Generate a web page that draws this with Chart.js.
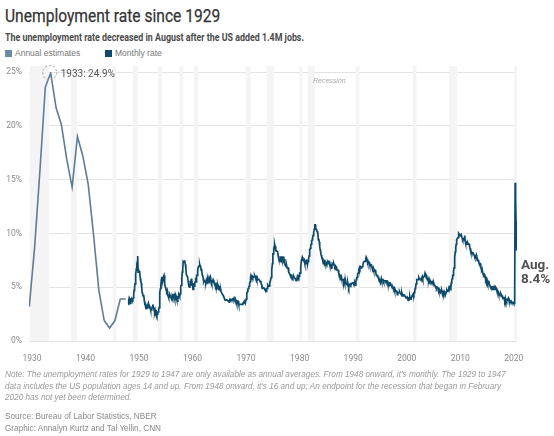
<!DOCTYPE html>
<html>
<head>
<meta charset="utf-8">
<script src="https://cdn.jsdelivr.net/npm/chart.js@4.4.1/dist/chart.umd.min.js"></script>
<style>
  html, body { margin:0; padding:0; background:#fff; }
  body { width:554px; height:436px; position:relative; overflow:hidden; }
  #c { position:absolute; left:0; top:0; }
  .cond { font-family:'Liberation Sans Narrow','Roboto','DejaVu Sans Condensed',sans-serif; }
  #title { position:absolute; left:5px; top:4px; font-size:19px; color:#333; white-space:nowrap; transform:scaleX(0.82); transform-origin:0 0; -webkit-text-stroke:0.25px #333; }
  #sub { position:absolute; left:5px; top:30px; font-size:11.5px; color:#4a4a4a; font-weight:bold; white-space:nowrap; transform:scaleX(0.77); transform-origin:0 0; }
  .leg { position:absolute; top:48px; font-family:'Liberation Sans',Arial,sans-serif; font-size:8.5px; color:#777; white-space:nowrap; }
  .leg span.sw { display:inline-block; width:7px; height:7px; margin-right:3px; vertical-align:-1px; }
  #note { position:absolute; left:5px; top:369px; font-family:'Liberation Sans',Arial,sans-serif; font-style:italic; font-size:8.2px; line-height:11.5px; color:#999; white-space:nowrap; }
  #src { position:absolute; left:5px; top:411px; font-family:'Liberation Sans',Arial,sans-serif; font-size:8.2px; line-height:11.5px; color:#888; white-space:nowrap; }
</style>
</head>
<body>
<div id="title" class="cond">Unemployment rate since 1929</div>
<div id="sub" class="cond">The unemployment rate decreased in August after the US added 1.4M jobs.</div>
<div class="leg" style="left:5px"><span class="sw" style="background:#6b8ba4"></span>Annual estimates</div>
<div class="leg" style="left:105px"><span class="sw" style="background:#0e4a6a"></span>Monthly rate</div>
<canvas id="c" width="554" height="436"></canvas>
<div id="note">Note: The unemployment rates for 1929 to 1947 are only available as annual averages. From 1948 onward, it's monthly. The 1929 to 1947<br>data includes the US population ages 14 and up. From 1948 onward, it's 16 and up; An endpoint for the recession that began in February<br>2020 has not yet been determined.</div>
<div id="src">Source: Bureau of Labor Statistics, NBER<br>Graphic: Annalyn Kurtz and Tal Yellin, CNN</div>
<script>
// ---- DATA ----
const annualYears = [1929,1930,1931,1932,1933,1934,1935,1936,1937,1938,1939,1940,1941,1942,1943,1944,1945,1946,1947];
const annualRate  = [3.2,8.7,15.9,23.6,24.9,21.7,20.1,16.9,14.3,19.0,17.2,14.6,9.9,4.7,1.9,1.2,1.9,3.9,3.9];

const monthlyStartYear = 1948;
const monthlyRate = [
/*1948*/3.4,3.8,4.0,3.9,3.5,3.6,3.6,3.9,3.8,3.7,3.8,4.0,
/*1949*/4.3,4.7,5.0,5.3,6.1,6.2,6.7,6.8,6.6,7.9,6.4,6.6,
/*1950*/6.5,6.4,6.3,5.8,5.5,5.4,5.0,4.5,4.4,4.2,4.2,4.3,
/*1951*/3.7,3.4,3.4,3.1,3.0,3.2,3.1,3.1,3.3,3.5,3.5,3.1,
/*1952*/3.2,3.1,2.9,2.9,3.0,3.0,3.2,3.4,3.1,3.0,2.8,2.7,
/*1953*/2.9,2.6,2.6,2.7,2.5,2.5,2.6,2.7,2.9,3.1,3.5,4.5,
/*1954*/4.9,5.2,5.7,5.9,5.9,5.6,5.8,6.0,6.1,5.7,5.3,5.0,
/*1955*/4.9,4.7,4.6,4.7,4.3,4.2,4.0,4.2,4.1,4.3,4.2,4.2,
/*1956*/4.0,3.9,4.2,4.0,4.3,4.3,4.4,4.1,3.9,3.9,4.3,4.2,
/*1957*/4.2,3.9,3.7,3.9,4.1,4.3,4.2,4.1,4.4,4.5,5.1,5.2,
/*1958*/5.8,6.4,6.7,7.4,7.4,7.3,7.5,7.4,7.1,6.7,6.2,6.2,
/*1959*/6.0,5.9,5.6,5.2,5.1,5.0,5.1,5.2,5.5,5.7,5.8,5.3,
/*1960*/5.2,4.8,5.4,5.2,5.1,5.4,5.5,5.6,5.5,6.1,6.1,6.6,
/*1961*/6.6,6.9,6.9,7.0,7.1,6.9,7.0,6.6,6.7,6.5,6.1,6.0,
/*1962*/5.8,5.5,5.6,5.6,5.5,5.5,5.4,5.7,5.6,5.4,5.7,5.5,
/*1963*/5.7,5.9,5.7,5.7,5.9,5.6,5.6,5.4,5.5,5.5,5.7,5.5,
/*1964*/5.6,5.4,5.4,5.3,5.1,5.2,4.9,5.0,5.1,5.1,4.8,5.0,
/*1965*/4.9,5.1,4.7,4.8,4.6,4.6,4.4,4.4,4.3,4.2,4.1,4.0,
/*1966*/4.0,3.8,3.8,3.8,3.9,3.8,3.8,3.8,3.7,3.7,3.6,3.8,
/*1967*/3.9,3.8,3.8,3.8,3.8,3.9,3.8,3.8,3.8,4.0,3.9,3.8,
/*1968*/3.7,3.8,3.7,3.5,3.5,3.7,3.7,3.5,3.4,3.4,3.4,3.4,
/*1969*/3.4,3.4,3.4,3.4,3.4,3.5,3.5,3.5,3.7,3.7,3.5,3.5,
/*1970*/3.9,4.2,4.4,4.6,4.8,4.9,5.0,5.1,5.4,5.5,5.9,6.1,
/*1971*/5.9,5.9,6.0,5.9,5.9,5.9,6.0,6.1,6.0,5.8,6.0,6.0,
/*1972*/5.8,5.7,5.8,5.7,5.7,5.7,5.6,5.6,5.5,5.6,5.3,5.2,
/*1973*/4.9,5.0,4.9,5.0,4.9,4.9,4.8,4.8,4.8,4.6,4.8,4.9,
/*1974*/5.1,5.2,5.1,5.1,5.1,5.4,5.5,5.5,5.9,6.0,6.6,7.2,
/*1975*/8.1,8.1,8.6,8.8,9.0,8.8,8.6,8.4,8.4,8.4,8.3,8.2,
/*1976*/7.9,7.7,7.6,7.7,7.4,7.6,7.8,7.8,7.6,7.7,7.8,7.8,
/*1977*/7.5,7.6,7.4,7.2,7.0,7.2,6.9,7.0,6.8,6.8,6.8,6.4,
/*1978*/6.4,6.3,6.3,6.1,6.0,5.9,6.2,5.9,6.0,5.8,5.9,6.0,
/*1979*/5.9,5.9,5.8,5.8,5.6,5.7,5.7,6.0,5.9,6.0,5.9,6.0,
/*1980*/6.3,6.3,6.3,6.9,7.5,7.6,7.8,7.7,7.5,7.5,7.5,7.2,
/*1981*/7.5,7.4,7.4,7.2,7.5,7.5,7.2,7.4,7.6,7.9,8.3,8.5,
/*1982*/8.6,8.9,9.0,9.3,9.4,9.6,9.8,9.8,10.1,10.4,10.8,10.8,
/*1983*/10.4,10.4,10.3,10.2,10.1,10.1,9.4,9.5,9.2,8.8,8.5,8.3,
/*1984*/8.0,7.8,7.8,7.7,7.4,7.2,7.5,7.5,7.3,7.4,7.2,7.3,
/*1985*/7.3,7.2,7.2,7.3,7.2,7.4,7.4,7.1,7.1,7.1,7.0,7.0,
/*1986*/6.7,7.2,7.2,7.1,7.2,7.2,7.0,6.9,7.0,7.0,6.9,6.6,
/*1987*/6.6,6.6,6.6,6.3,6.3,6.2,6.1,6.0,5.9,6.0,5.8,5.7,
/*1988*/5.7,5.7,5.7,5.4,5.6,5.4,5.4,5.6,5.4,5.4,5.3,5.3,
/*1989*/5.4,5.2,5.0,5.2,5.2,5.3,5.2,5.2,5.3,5.3,5.4,5.4,
/*1990*/5.4,5.3,5.2,5.4,5.4,5.2,5.5,5.7,5.9,5.9,6.2,6.3,
/*1991*/6.4,6.6,6.8,6.7,6.9,6.9,6.8,6.9,6.9,7.0,7.0,7.3,
/*1992*/7.3,7.4,7.4,7.4,7.6,7.8,7.7,7.6,7.6,7.3,7.4,7.4,
/*1993*/7.3,7.1,7.0,7.1,7.1,7.0,6.9,6.8,6.7,6.8,6.6,6.5,
/*1994*/6.6,6.6,6.5,6.4,6.1,6.1,6.1,6.0,5.9,5.8,5.6,5.5,
/*1995*/5.6,5.4,5.4,5.8,5.6,5.6,5.7,5.7,5.6,5.5,5.6,5.6,
/*1996*/5.6,5.5,5.5,5.6,5.6,5.3,5.5,5.1,5.2,5.2,5.4,5.4,
/*1997*/5.3,5.2,5.2,5.1,4.9,5.0,4.9,4.8,4.9,4.7,4.6,4.7,
/*1998*/4.6,4.6,4.7,4.3,4.4,4.5,4.5,4.5,4.6,4.5,4.4,4.4,
/*1999*/4.3,4.4,4.2,4.3,4.2,4.3,4.3,4.2,4.2,4.1,4.1,4.0,
/*2000*/4.0,4.1,4.0,3.8,4.0,4.0,4.0,4.1,3.9,3.9,3.9,3.9,
/*2001*/4.2,4.2,4.3,4.4,4.3,4.5,4.6,4.9,5.0,5.3,5.5,5.7,
/*2002*/5.7,5.7,5.7,5.9,5.8,5.8,5.8,5.7,5.7,5.7,5.9,6.0,
/*2003*/5.8,5.9,5.9,6.0,6.1,6.3,6.2,6.1,6.1,6.0,5.8,5.7,
/*2004*/5.7,5.6,5.8,5.6,5.6,5.6,5.5,5.4,5.4,5.5,5.4,5.4,
/*2005*/5.3,5.4,5.2,5.2,5.1,5.0,5.0,4.9,5.0,5.0,5.0,4.9,
/*2006*/4.7,4.8,4.7,4.7,4.6,4.6,4.7,4.7,4.5,4.4,4.5,4.4,
/*2007*/4.6,4.5,4.4,4.5,4.4,4.6,4.7,4.6,4.7,4.7,4.7,5.0,
/*2008*/5.0,4.9,5.1,5.0,5.4,5.6,5.8,6.1,6.1,6.5,6.8,7.3,
/*2009*/7.8,8.3,8.7,9.0,9.4,9.5,9.5,9.6,9.8,10.0,9.9,9.9,
/*2010*/9.8,9.8,9.9,9.9,9.6,9.4,9.4,9.5,9.5,9.4,9.8,9.3,
/*2011*/9.1,9.0,9.0,9.1,9.0,9.1,9.0,9.0,9.0,8.8,8.6,8.5,
/*2012*/8.3,8.3,8.2,8.2,8.2,8.2,8.2,8.0,7.8,7.8,7.7,7.9,
/*2013*/8.0,7.7,7.5,7.6,7.5,7.5,7.3,7.2,7.2,7.2,6.9,6.7,
/*2014*/6.6,6.7,6.7,6.2,6.3,6.1,6.2,6.1,5.9,5.7,5.8,5.6,
/*2015*/5.7,5.5,5.4,5.4,5.6,5.3,5.2,5.1,5.0,5.0,5.1,5.0,
/*2016*/4.8,4.9,5.0,5.1,4.8,4.9,4.8,4.9,5.0,4.9,4.7,4.7,
/*2017*/4.7,4.6,4.4,4.4,4.4,4.3,4.3,4.4,4.3,4.2,4.2,4.1,
/*2018*/4.0,4.1,4.0,4.0,3.8,4.0,3.8,3.8,3.7,3.8,3.8,3.9,
/*2019*/4.0,3.8,3.8,3.7,3.6,3.6,3.7,3.6,3.5,3.6,3.6,3.6,
/*2020*/3.5,3.5,4.4,14.7,13.3,11.1,10.2,8.4
];

// NBER recessions (decimal years: start, end)
const recessionStart = [1929.58,1937.33,1945.08,1948.83,1953.50,1957.58,1960.25,1969.92,1973.83,1980.00,1981.50,1990.50,2001.17,2007.92,2020.08];
const recessionEnd   = [1933.17,1938.42,1945.75,1949.75,1954.33,1958.25,1961.08,1970.83,1975.17,1980.50,1982.83,1991.17,2001.83,2009.42,2020.60];

const xTickYears = [1930,1940,1950,1960,1970,1980,1990,2000,2010,2020];
const yTicks = [0,5,10,15,20,25];
const peakLabel = '1933: 24.9%';
const endLabel = ['Aug.', '8.4%'];

// ---- BUILD ----
const COND = "'Liberation Sans Narrow','Roboto','DejaVu Sans Condensed',sans-serif";
const annualPts = annualYears.map((y,i)=>({x:y+0.5, y:annualRate[i]}));
const monthlyPts = monthlyRate.map((v,i)=>({x:monthlyStartYear + i/12, y:v}));

const bandsPlugin = {
  id:'bands',
  beforeDatasetsDraw(chart){
    const {ctx, chartArea, scales:{x}} = chart;
    ctx.save();
    ctx.fillStyle = '#f4f4f4';
    recessionStart.forEach((s,i)=>{
      const a = Math.max(x.getPixelForValue(s), chartArea.left);
      const b = Math.min(x.getPixelForValue(recessionEnd[i]), chartArea.right);
      ctx.fillRect(a, chartArea.top-6, Math.max(b-a,1.5), chartArea.bottom-chartArea.top+6);
    });
    ctx.fillStyle = '#aaa';
    ctx.font = 'italic 7px "Liberation Sans", Arial, sans-serif';
    ctx.textBaseline = 'middle';
    ctx.textAlign = 'left';
    ctx.fillText('Recession', x.getPixelForValue(1982.5), chartArea.top+9);
    ctx.restore();
  },
  afterDatasetsDraw(chart){
    const {ctx, scales:{x,y}} = chart;
    ctx.save();
    // peak annotation
    const px = x.getPixelForValue(annualYears[4]+0.5), py = y.getPixelForValue(annualRate[4]);
    ctx.setLineDash([2,2]);
    ctx.strokeStyle = '#999';
    ctx.lineWidth = 1;
    ctx.beginPath(); ctx.arc(px-1, py-0.5, 7, 0, Math.PI*2); ctx.stroke();
    ctx.setLineDash([]);
    ctx.fillStyle = '#555';
    ctx.font = '10px ' + COND;
    ctx.textBaseline = 'middle';
    ctx.fillText(peakLabel, px+10, py+1);
    // end label
    const last = monthlyPts[monthlyPts.length-1];
    const ex = x.getPixelForValue(last.x), ey = y.getPixelForValue(last.y);
    ctx.fillStyle = '#505050';
    ctx.font = 'bold 13.5px ' + COND;
    ctx.fillText(endLabel[0], ex+4, ey+15);
    ctx.fillText(endLabel[1], ex+4, ey+29);
    ctx.restore();
  }
};

new Chart(document.getElementById('c'), {
  type:'line',
  data:{
    datasets:[
      {label:'Annual estimates', data:annualPts, borderColor:'#5d7d96', backgroundColor:'#6b8ba4', borderWidth:1.6, pointRadius:0, tension:0},
      {label:'Monthly rate', data:monthlyPts, borderColor:'#0e4a6a', backgroundColor:'#0e4a6a', borderWidth:1.7, pointRadius:0, tension:0}
    ]
  },
  options:{
    responsive:false, animation:false,
    layout:{padding:{top:72, right:37, bottom:75, left:0}},
    plugins:{legend:{display:false}, tooltip:{enabled:false}},
    scales:{
      x:{type:'linear', min:1929.45, max:2020.6,
         afterBuildTicks(s){ s.ticks = xTickYears.map(v=>({value:v})); },
         afterFit(s){ s.height = 20; },
         grid:{display:false}, border:{display:false},
         ticks:{color:'#8a8a8a', font:{family:COND, size:8.5}, padding:5, maxRotation:0, autoSkip:false, callback:v=>String(v)}},
      y:{min:0, max:25,
         afterBuildTicks(s){ s.ticks = yTicks.map(v=>({value:v})); },
         afterFit(s){ s.width = 29; },
         grid:{color:'#e3e3e3', drawTicks:false}, border:{display:false},
         ticks:{color:'#8a8a8a', font:{family:COND, size:8.5}, padding:7, callback:v=>v+'%'}}
    }
  },
  plugins:[bandsPlugin]
});
</script>
</body>
</html>
